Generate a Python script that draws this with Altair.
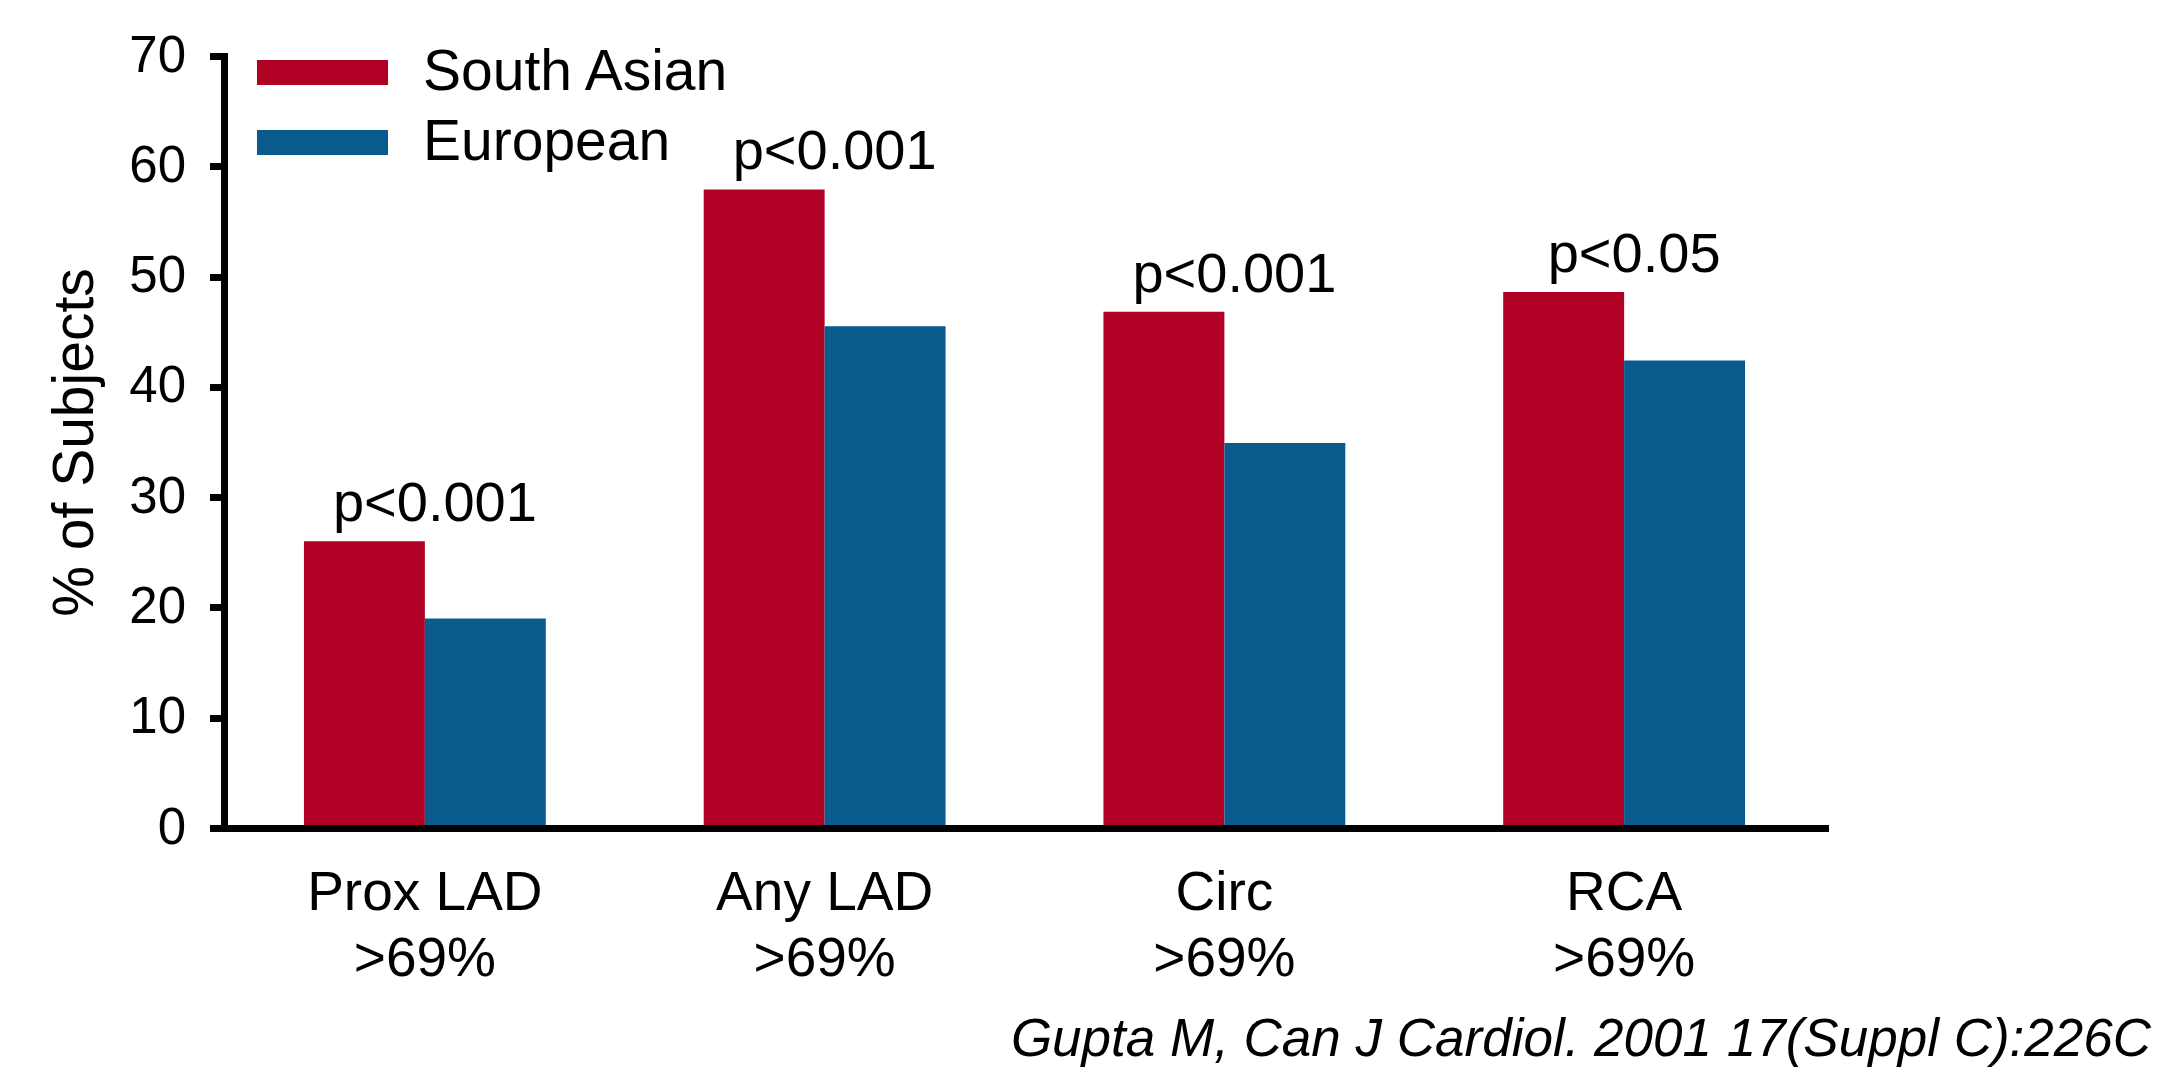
import altair as alt
import pandas as pd

categories = ["Prox LAD", "Any LAD", "Circ", "RCA"]
series = ["South Asian", "European"]
south_asian = [26.0, 57.9, 46.8, 48.6]
european = [19.0, 45.5, 34.9, 42.4]
p_values = ["p<0.001", "p<0.001", "p<0.001", "p<0.05"]
x_sublabel = ">69%"
y_title = "% of Subjects"
y_ticks = [0, 10, 20, 30, 40, 50, 60, 70]
citation = "Gupta M, Can J Cardiol. 2001 17(Suppl C):226C"
colors = ["#B00024", "#095B8E"]

FONT = "Liberation Sans, Arial, Helvetica, sans-serif"

rows = []
for i, c in enumerate(categories):
    rows.append({"category": c, "group": series[0], "value": south_asian[i]})
    rows.append({"category": c, "group": series[1], "value": european[i]})
bars_df = pd.DataFrame(rows)
p_df = pd.DataFrame({"category": categories, "value": south_asian, "p": p_values})
cite_df = pd.DataFrame({"text": [citation]})

x_scale = alt.Scale(paddingInner=0.395, paddingOuter=0.2)

x_axis = alt.Axis(
    title=None,
    labelExpr="[datum.label, '" + x_sublabel + "']",
    labelAngle=0,
    labelFontSize=55,
    labelLineHeight=66,
    labelPadding=38,
    labelColor="black",
    labelFont=FONT,
    labelLimit=1000,
    ticks=False,
    tickSize=0,
    domainWidth=7,
    domainColor="black",
    domainCap="square",
    grid=False,
    zindex=1,
)

y_axis = alt.Axis(
    values=y_ticks,
    title=y_title,
    titleFontSize=57,
    titleFontWeight="normal",
    titleColor="black",
    titleFont=FONT,
    titlePadding=24,
    labelFontSize=51,
    labelPadding=24,
    labelColor="black",
    labelFont=FONT,
    tickSize=14.5,
    tickWidth=7,
    tickColor="black",
    domainWidth=7,
    domainColor="black",
    domainCap="square",
    grid=False,
    zindex=1,
)

legend = alt.Legend(
    title=None,
    orient="none",
    legendX=70,
    legendY=-12,
    symbolType="M-5,-0.95H5V0.95H-5Z",
    symbolSize=687,
    symbolStrokeWidth=0,
    symbolOpacity=1,
    labelFontSize=57,
    labelFont=FONT,
    labelColor="black",
    labelOffset=72,
    labelLimit=1000,
    rowPadding=12,
    padding=0,
)

bars = alt.Chart(bars_df).mark_bar().encode(
    x=alt.X("category:N", sort=categories, scale=x_scale, axis=x_axis),
    xOffset=alt.XOffset("group:N", sort=series, scale=alt.Scale(paddingInner=0, paddingOuter=0)),
    y=alt.Y("value:Q", scale=alt.Scale(domain=[0, 70], nice=False), axis=y_axis),
    color=alt.Color("group:N", sort=series,
                    scale=alt.Scale(domain=series, range=colors), legend=legend),
)

ptext = alt.Chart(p_df).mark_text(
    fontSize=56, font=FONT, color="black", baseline="alphabetic", dy=-20, dx=10
).encode(
    x=alt.X("category:N", sort=categories),
    y=alt.Y("value:Q"),
    text="p:N",
)

cite = alt.Chart(cite_df).mark_text(
    fontSize=53, font=FONT, fontStyle="italic", color="black",
    align="right", baseline="alphabetic"
).encode(
    x=alt.value(1927),
    y=alt.value(1000),
    text="text:N",
)

chart = alt.layer(bars, ptext, cite).properties(
    width=1601,
    height=772,
    autosize=alt.AutoSizeParams(type="none"),
    padding={"left": 216, "top": 48, "right": 330, "bottom": 242},
).configure(font=FONT).configure_view(strokeWidth=0, stroke=None)

chart.save("out.html", embed_options={"renderer": "svg", "actions": False})
